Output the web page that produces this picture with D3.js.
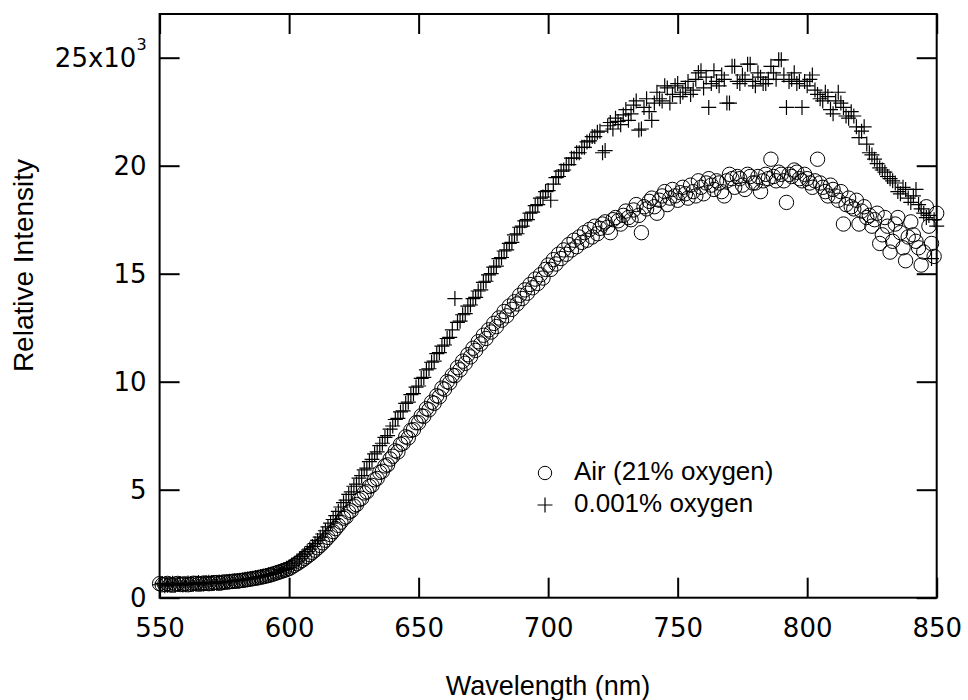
<!DOCTYPE html>
<html><head><meta charset="utf-8">
<script src="https://cdn.jsdelivr.net/npm/d3@7"></script>
<style>body{margin:0;background:#fff}</style>
</head><body><svg id="c" width="968" height="700"></svg>
<script>
// Wavelength samples (nm)
const wavelengths = [
550,551,552,553,554,555,556,557,558,559,
560,561,562,563,564,565,566,567,568,569,
570,571,572,573,574,575,576,577,578,579,
580,581,582,583,584,585,586,587,588,589,
590,591,592,593,594,595,596,597,598,599,
600,601,602,603,604,605,606,607,608,609,
610,611,612,613,614,615,616,617,618,619,
620,621,622,623,624,625,626,627,628,629,
630,631,632,633,634,635,636,637,638,639,
640,641,642,643,644,645,646,647,648,649,
650,651,652,653,654,655,656,657,658,659,
660,661,662,663,664,665,666,667,668,669,
670,671,672,673,674,675,676,677,678,679,
680,681,682,683,684,685,686,687,688,689,
690,691,692,693,694,695,696,697,698,699,
700,701,702,703,704,705,706,707,708,709,
710,711,712,713,714,715,716,717,718,719,
720,721,722,723,724,725,726,727,728,729,
730,731,732,733,734,735,736,737,738,739,
740,741,742,743,744,745,746,747,748,749,
750,751,752,753,754,755,756,757,758,759,
760,761,762,763,764,765,766,767,768,769,
770,771,772,773,774,775,776,777,778,779,
780,781,782,783,784,785,786,787,788,789,
790,791,792,793,794,795,796,797,798,799,
800,801,802,803,804,805,806,807,808,809,
810,811,812,813,814,815,816,817,818,819,
820,821,822,823,824,825,826,827,828,829,
830,831,832,833,834,835,836,837,838,839,
840,841,842,843,844,845,846,847,848,849,
850];
// Relative intensity (x10^3) — Air (21% oxygen)
const airValues = [
0.65,0.60,0.62,0.66,0.60,0.58,0.63,0.66,0.61,0.63,
0.64,0.60,0.62,0.67,0.66,0.63,0.64,0.68,0.67,0.65,
0.66,0.70,0.70,0.67,0.69,0.73,0.72,0.74,0.75,0.77,
0.76,0.79,0.80,0.82,0.84,0.86,0.88,0.90,0.92,0.95,
0.97,1.00,1.03,1.06,1.10,1.14,1.18,1.22,1.26,1.30,
1.35,1.42,1.50,1.57,1.65,1.73,1.82,1.91,2.00,2.10,
2.20,2.31,2.42,2.54,2.66,2.79,2.92,3.06,3.20,3.35,
3.50,3.68,3.74,3.96,4.02,4.24,4.31,4.54,4.60,4.85,
4.90,5.15,5.20,5.46,5.52,5.80,5.85,6.10,6.15,6.42,
6.55,6.80,6.75,7.10,7.15,7.45,7.40,7.75,7.78,8.10,
8.10,8.42,8.40,8.75,8.70,9.05,9.00,9.35,9.30,9.70,
9.65,10.00,9.95,10.30,10.28,10.65,10.55,10.95,10.85,11.25,
11.15,11.55,11.45,11.85,11.75,12.15,12.00,12.40,12.30,12.70,
12.55,12.95,12.85,13.25,13.05,13.50,13.35,13.70,13.60,14.00,
13.85,14.25,14.10,14.50,14.35,14.75,14.55,14.95,14.80,15.20,
15.40,15.20,15.65,15.45,15.90,15.70,16.10,15.90,16.35,16.10,
16.55,16.25,16.70,16.45,16.90,16.55,17.05,16.70,17.20,16.85,
17.10,17.30,17.40,17.15,16.90,17.50,17.60,17.45,17.30,17.70,
17.90,17.60,17.50,17.95,18.20,17.70,16.90,18.10,18.00,18.35,
18.50,18.10,17.80,18.40,18.60,18.80,18.20,18.50,18.90,18.60,
18.40,18.75,19.00,18.70,18.50,19.10,18.80,18.60,19.30,19.00,
18.70,19.20,19.40,19.10,18.90,19.30,19.20,18.80,18.60,19.30,
19.60,19.40,19.00,19.50,19.40,19.10,18.90,19.60,19.50,19.20,
19.20,19.50,18.80,19.30,19.60,19.40,20.30,19.50,19.30,19.70,
19.60,19.30,18.30,19.60,19.50,19.80,19.70,19.40,19.30,19.60,
19.40,19.20,19.00,19.30,20.30,19.20,19.00,18.80,18.60,19.10,
18.90,18.60,18.40,18.80,17.30,18.20,18.50,18.10,18.00,18.40,
17.30,17.90,18.10,17.60,17.70,17.20,17.50,17.80,16.40,16.80,
17.60,17.20,16.00,16.50,17.30,17.60,16.90,16.20,15.60,16.70,
17.40,16.80,16.50,16.20,15.40,16.00,18.10,17.20,16.40,15.80,
17.80];
// Relative intensity (x10^3) — 0.001% oxygen
const lowOxygenValues = [
0.60,0.66,0.55,0.58,0.62,0.67,0.58,0.61,0.65,0.59,
0.60,0.68,0.66,0.62,0.63,0.70,0.66,0.64,0.68,0.71,
0.70,0.66,0.68,0.73,0.72,0.70,0.74,0.76,0.76,0.79,
0.80,0.81,0.82,0.85,0.86,0.88,0.90,0.93,0.95,0.98,
1.00,1.03,1.06,1.09,1.12,1.16,1.20,1.25,1.30,1.36,
1.42,1.51,1.60,1.70,1.80,1.91,2.02,2.13,2.25,2.37,
2.50,2.65,2.80,2.95,3.10,3.28,3.45,3.62,3.80,4.00,
4.20,4.40,4.52,4.78,4.90,5.16,5.26,5.54,5.65,5.92,
6.00,6.30,6.40,6.66,6.75,7.04,7.15,7.42,7.50,7.80,
7.95,8.25,8.30,8.60,8.65,9.00,9.05,9.40,9.45,9.75,
9.80,10.15,10.20,10.55,10.60,10.90,10.95,11.30,11.35,11.65,
11.70,12.00,12.05,12.40,13.85,12.75,12.80,13.10,13.15,13.50,
13.55,13.85,13.90,14.20,14.25,14.60,14.65,14.95,15.00,15.30,
15.35,15.70,15.75,16.05,16.10,16.40,16.45,16.80,16.85,17.15,
17.20,17.45,17.50,17.80,17.85,18.15,18.20,18.50,18.55,18.80,
18.85,18.40,19.15,19.45,19.50,19.75,19.80,20.05,20.05,20.35,
20.35,20.60,20.60,20.85,20.85,21.10,21.15,21.35,21.35,21.55,
21.60,20.60,20.70,21.85,22.00,21.70,22.20,22.05,21.90,22.35,
22.60,22.10,22.40,22.80,23.00,21.65,21.70,22.70,23.10,22.50,
22.10,22.90,23.40,23.10,23.00,23.70,23.60,22.90,23.30,23.70,
23.80,23.20,23.40,23.60,23.90,23.30,23.50,24.00,24.30,24.40,
23.60,24.10,22.70,23.80,24.40,23.90,23.70,24.20,24.00,22.90,
22.90,24.60,24.60,23.90,23.80,24.20,24.00,24.70,24.70,23.90,
23.70,24.30,24.10,23.80,23.80,24.00,24.60,24.30,24.00,24.90,
24.90,24.20,22.70,23.90,24.00,24.30,23.80,23.90,22.70,23.90,
23.70,24.00,24.20,23.50,23.30,23.10,23.00,23.40,23.20,22.60,
22.40,23.00,23.40,22.90,22.70,22.30,22.20,22.50,22.30,21.80,
21.30,21.60,21.80,21.00,20.60,20.50,20.30,20.10,19.90,19.80,
19.70,19.50,19.40,19.30,19.20,18.80,18.70,19.00,18.90,18.50,
18.30,18.60,18.90,18.20,18.00,17.80,17.60,17.70,15.70,17.50,
17.20];
const xTicks = [550,600,650,700,750,800,850];
const yTicks = [0,5,10,15,20,25];
const seriesNames = ["Air (21% oxygen)", "0.001% oxygen"];
const xTitle = "Wavelength (nm)";
const yTitle = "Relative Intensity";

const svg = d3.select("#c");
const L = 159.6, R = 936.7, T = 14, B = 597.7;
const x = d3.scaleLinear().domain([550, 850]).range([L, R]);
const y = d3.scaleLinear().domain([0, 25]).range([B, 57.7]);
const tickFont = "'DejaVu Sans', sans-serif";
const textFont = "'Liberation Sans', Arial, sans-serif";

function styleAxis(g) {
  g.select(".domain").remove();
  g.selectAll(".tick line").attr("stroke", "#000").attr("stroke-width", 2);
  g.selectAll(".tick text").attr("font-family", tickFont).attr("font-size", 26).attr("fill", "#000");
}

const gx = svg.append("g").attr("transform", `translate(0,${B})`)
  .call(d3.axisBottom(x).tickValues(xTicks).tickSize(-20).tickPadding(20.5).tickFormat(d3.format("d")));
styleAxis(gx);
const gxt = svg.append("g").attr("transform", `translate(0,${T})`)
  .call(d3.axisTop(x).tickValues(xTicks).tickSize(-20).tickFormat(""));
styleAxis(gxt);

const gy = svg.append("g").attr("transform", `translate(${L},0)`)
  .call(d3.axisLeft(y).tickValues(yTicks).tickSize(-20).tickPadding(13).tickFormat(d => d === 25 ? "25x10" : d));
styleAxis(gy);
gy.selectAll(".tick text").filter(d => d === 25)
  .append("tspan").attr("font-size", 16).attr("dy", -17).text("3");
const gyr = svg.append("g").attr("transform", `translate(${R},0)`)
  .call(d3.axisRight(y).tickValues(yTicks).tickSize(-20).tickFormat(""));
styleAxis(gyr);

svg.append("rect").attr("x", L).attr("y", T).attr("width", R - L).attr("height", B - T)
  .attr("fill", "none").attr("stroke", "#000").attr("stroke-width", 2);

const plusPath = "M-7.5,0H7.5M0,-7.5V7.5";

svg.append("g").selectAll("circle")
  .data(wavelengths.map((w, i) => [w, airValues[i]]))
  .join("circle")
  .attr("cx", d => x(d[0])).attr("cy", d => y(d[1])).attr("r", 7.2)
  .attr("fill", "none").attr("stroke", "#000").attr("stroke-width", 1);

svg.append("g").selectAll("path")
  .data(wavelengths.map((w, i) => [w, lowOxygenValues[i]]))
  .join("path")
  .attr("d", plusPath)
  .attr("transform", d => `translate(${x(d[0])},${y(d[1])})`)
  .attr("fill", "none").attr("stroke", "#000").attr("stroke-width", 1.2);

// Legend
const lg = svg.append("g");
lg.append("circle").attr("cx", 545).attr("cy", 473).attr("r", 6.7)
  .attr("fill", "none").attr("stroke", "#000").attr("stroke-width", 1);
lg.append("path").attr("d", plusPath).attr("transform", "translate(545,505)")
  .attr("fill", "none").attr("stroke", "#000").attr("stroke-width", 1.2);
lg.selectAll("text").data(seriesNames).join("text")
  .attr("x", 574).attr("y", (d, i) => [480, 511.7][i])
  .attr("font-family", textFont).attr("font-size", 26).attr("fill", "#000")
  .text(d => d);

// Titles
svg.append("text").attr("x", 548).attr("y", 695).attr("text-anchor", "middle")
  .attr("font-family", textFont).attr("font-size", 27).attr("fill", "#000").text(xTitle);
svg.append("text").attr("transform", "translate(33,265.5) rotate(-90)").attr("text-anchor", "middle")
  .attr("font-family", textFont).attr("font-size", 28).attr("fill", "#000").text(yTitle);
</script>
</body></html>
